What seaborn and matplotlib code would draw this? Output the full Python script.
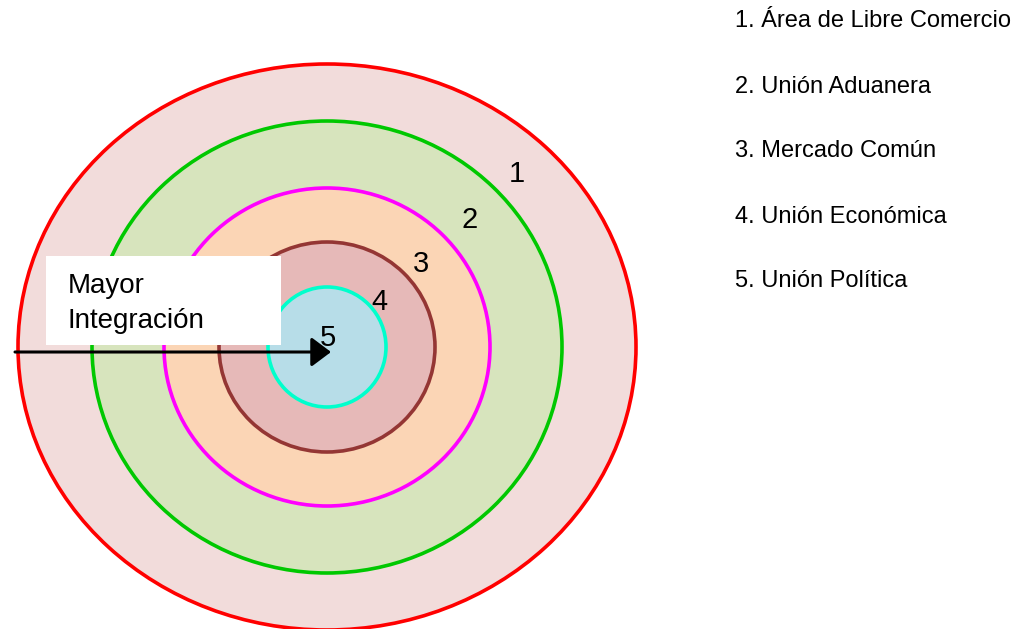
# concentric rings: stages of economic integration
import matplotlib.pyplot as plt
from matplotlib.patches import Ellipse, Rectangle
import seaborn as sns

# data
levels = [1, 2, 3, 4, 5]
stages = ["Área de Libre Comercio", "Unión Aduanera", "Mercado Común",
          "Unión Económica", "Unión Política"]
ring_w = [309, 235, 163, 108, 59]   # semi-axis x (px)
ring_h = [283, 226, 159, 105, 60]   # semi-axis y (px)
edge_colors = ["#ff0000", "#00c800", "#ff00ff", "#943634", "#00ffcc"]
fill_colors = ["#f2dcdb", "#d7e4bd", "#fbd5b5", "#e6b9b8", "#b7dde8"]
arrow_label = "Mayor\nIntegración"

sns.set_theme(style="white")
plt.rcParams["font.family"] = ["Liberation Sans", "DejaVu Sans"]
plt.rcParams["text.color"] = "black"

fig = plt.figure(figsize=(10.2, 6.29), dpi=100)
ax = fig.add_axes([0, 0, 1, 1])
ax.set_xlim(0, 1020)
ax.set_ylim(629, 0)
ax.set_aspect("equal")
ax.axis("off")

cx, cy = 327, 347
for w, h, ec, fc in zip(ring_w, ring_h, edge_colors, fill_colors):
    ax.add_patch(Ellipse((cx, cy), 2 * w, 2 * h, facecolor=fc, edgecolor=ec,
                         linewidth=2.6, zorder=2))

# ring numbers
label_pos = [(517, 182), (470, 228), (421, 272), (379, 310), (328, 346)]
for lv, (x, y) in zip(levels, label_pos):
    ax.text(x, y, str(lv), fontsize=21, ha="center", va="baseline",
            color="black", zorder=7)

# white label box + arrow
ax.add_patch(Rectangle((46, 256), 235, 89, facecolor="white",
                       edgecolor="none", zorder=4))
lines = arrow_label.split("\n")
ax.text(68, 293, lines[0], fontsize=20, ha="left", va="baseline", zorder=5)
ax.text(68, 328, lines[1], fontsize=20, ha="left", va="baseline", zorder=5)

ax.annotate("", xy=(331, 352), xytext=(15, 352),
            arrowprops=dict(arrowstyle="-|>,head_length=0.6,head_width=0.45",
                            mutation_scale=20, color="black", lw=2.2,
                            shrinkA=0, shrinkB=0),
            zorder=6)

# legend text on the right
legend_y = [27, 93, 157, 223, 287]
for lv, name, y in zip(levels, stages, legend_y):
    ax.text(735, y, f"{lv}. {name}", fontsize=17, ha="left", va="baseline")

fig.savefig("out.png", dpi=100)
plt.close(fig)
